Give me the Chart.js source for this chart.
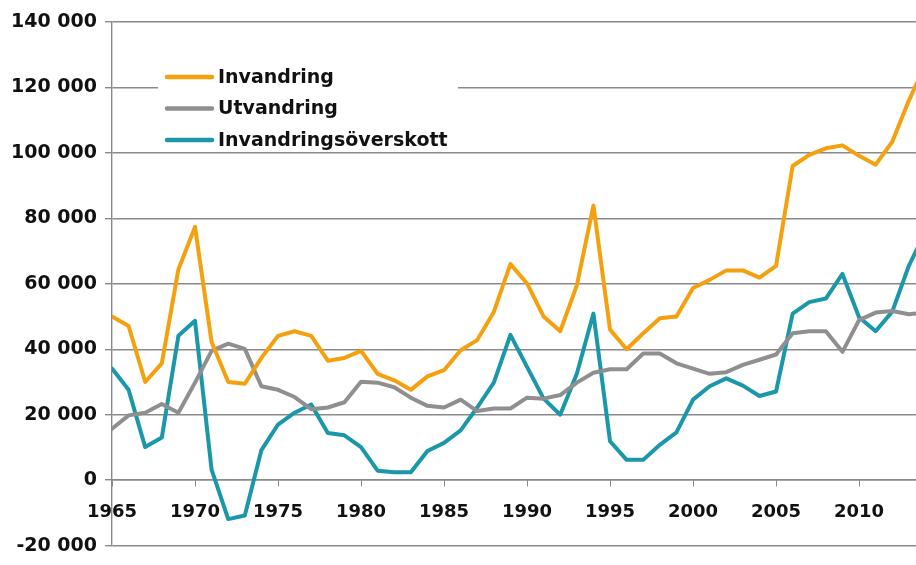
<!DOCTYPE html>
<html lang="sv">
<head>
  <meta charset="UTF-8">
  <title>Invandring och utvandring 1965–2014</title>
  <script src="https://cdn.jsdelivr.net/npm/chart.js"></script>
  <style>
    body { margin: 0; background: #fff; }
    #wrap { width: 916px; height: 565px; position: relative; }
  </style>
</head>
<body>
  <div id="wrap"><canvas id="myChart"></canvas></div>

  <script>
    const years = [
      1965, 1966, 1967, 1968, 1969, 1970, 1971, 1972, 1973, 1974,
      1975, 1976, 1977, 1978, 1979, 1980, 1981, 1982, 1983, 1984,
      1985, 1986, 1987, 1988, 1989, 1990, 1991, 1992, 1993, 1994,
      1995, 1996, 1997, 1998, 1999, 2000, 2001, 2002, 2003, 2004,
      2005, 2006, 2007, 2008, 2009, 2010, 2011, 2012, 2013, 2014
    ];
    const invandring = [
      50000, 47100, 30000, 35700, 64400, 77400, 42200, 30000, 29450, 37350,
      44100, 45500, 44100, 36500, 37350, 39500, 32500, 30500, 27600, 31700,
      33600, 39700, 42800, 51400, 66000, 60100, 50000, 45500, 59500, 83900,
      46000, 40000, 44900, 49500, 50000, 58700, 61200, 64100, 64100, 61900,
      65500, 96000, 99400, 101400, 102300, 99100, 96400, 103400, 116000, 127000
    ];
    const utvandring = [
      15700, 19800, 20600, 23300, 20600, 29800, 39500, 41700, 40100, 28700,
      27600, 25400, 21700, 22200, 23800, 30100, 29800, 28400, 25200, 22700,
      22200, 24600, 21100, 21900, 21900, 25200, 24900, 26000, 29800, 32800,
      33900, 33900, 38700, 38700, 35700, 34100, 32500, 33000, 35200, 36800,
      38400, 44900, 45500, 45500, 39200, 48900, 51200, 51700, 50700, 51200
    ];
    const overskott = [
      34100, 27600, 10100, 13000, 44100, 48700, 3200, -11900, -10800, 9200,
      17000, 20600, 23100, 14400, 13700, 10100, 2900, 2400, 2400, 8900,
      11400, 15200, 22200, 29800, 44400, 34600, 24900, 20000, 32500, 50900,
      11900, 6200, 6200, 10800, 14600, 24600, 28700, 31100, 28900, 25700,
      27100, 50900, 54400, 55500, 63000, 49800, 45500, 51500, 65500, 76000
    ];
    const seriesNames = ['Invandring', 'Utvandring', 'Invandringsöverskott'];
    const seriesColors = ['#F5A00F', '#8F8F8F', '#1A97A9'];

    const FONT = "'DejaVu Sans', Verdana, sans-serif";
    const gridGray = '#8a8a8a';

    const toPoints = (vals) => vals.map((v, i) => ({ x: years[i], y: v }));

    // legend drawn inside the plot on a white panel (covers the gridline behind it)
    const legendPanel = {
      id: 'legendPanel',
      beforeDatasetsDraw(chart) {
        const ctx = chart.ctx;
        const area = chart.chartArea;
        const x0 = area.left + 46;
        const y0 = area.top + 40;
        ctx.save();
        ctx.fillStyle = '#fff';
        ctx.fillRect(x0, y0, 300, 90);
        ctx.font = "bold 19px " + FONT;
        ctx.textBaseline = 'middle';
        chart.data.datasets.forEach((ds, i) => {
          const cy = y0 + 15 + i * 31.5;
          ctx.strokeStyle = ds.borderColor;
          ctx.lineWidth = 4.5;
          ctx.lineCap = 'round';
          ctx.beginPath();
          ctx.moveTo(x0 + 9, cy);
          ctx.lineTo(x0 + 54, cy);
          ctx.stroke();
          ctx.fillStyle = '#111';
          ctx.fillText(ds.label, x0 + 60, cy + 1);
        });
        ctx.restore();
      }
    };

    const ctx = document.getElementById('myChart').getContext('2d');
    const myChart = new Chart(ctx, {
      type: 'line',
      data: {
        datasets: [invandring, utvandring, overskott].map((vals, i) => ({
          label: seriesNames[i],
          data: toPoints(vals),
          borderColor: seriesColors[i],
          backgroundColor: seriesColors[i],
          borderWidth: 4,
          pointRadius: 0,
          tension: 0,
          borderJoinStyle: 'round',
          borderCapStyle: 'round',
        })),
      },
      options: {
        responsive: true,
        maintainAspectRatio: false,
        animation: false,
        layout: { padding: { top: 22, bottom: 11, left: 0, right: 0 } },
        plugins: {
          legend: { display: false },
          tooltip: { enabled: false },
        },
        scales: {
          x: {
            type: 'linear',
            position: { y: 0 },
            min: 1965,
            max: 2013.43,
            grid: {
              drawOnChartArea: false,
              drawTicks: true,
              tickLength: 6,
              tickColor: gridGray,
            },
            border: { color: gridGray, width: 1.4 },
            ticks: {
              stepSize: 5,
              includeBounds: false,
              padding: 15,
              maxRotation: 0,
              color: '#111',
              font: { family: FONT, size: 18, weight: 'bold' },
              callback: (v) => String(v),
            },
          },
          y: {
            min: -20000,
            max: 140000,
            afterFit: (scale) => { scale.width = 112; },
            grid: {
              color: gridGray,
              lineWidth: 1.4,
              tickLength: 7,
              tickColor: gridGray,
            },
            border: { color: gridGray, width: 1.4 },
            ticks: {
              stepSize: 20000,
              padding: 8,
              color: '#111',
              font: { family: FONT, size: 19, weight: 'bold' },
              callback: (v) => String(v).replace(/\B(?=(\d{3})+(?!\d))/g, ' '),
            },
          },
        },
      },
      plugins: [legendPanel],
    });
  </script>
</body>
</html>
